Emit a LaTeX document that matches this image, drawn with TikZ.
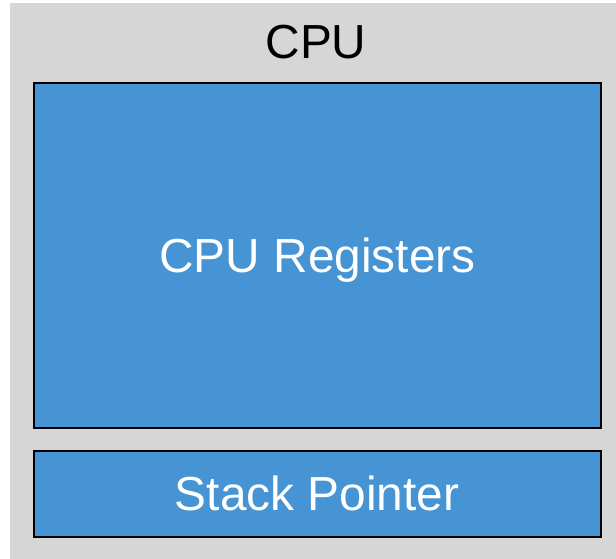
\documentclass[tikz,border=0pt]{standalone}
\usepackage{fontspec}
\setmainfont{Liberation Sans}
\definecolor{panelgray}{HTML}{D6D6D6}
\definecolor{regblue}{HTML}{4694D4}
\begin{document}
\begin{tikzpicture}[x=1pt,y=-1pt,
  unitbox/.style={draw=black, line width=2pt, fill=regblue},
  boxlabel/.style={text=white, font=\fontsize{47.8}{57}\selectfont, anchor=base, inner sep=0pt},
  titlelabel/.style={text=black, font=\fontsize{47.8}{57}\selectfont, anchor=base, inner sep=0pt}]
  \useasboundingbox (0,0) rectangle (616,559);
  % CPU enclosure
  \fill[panelgray] (10,3) rectangle (616,559);
  \node[titlelabel] (cpu) at (316,59) {CPU};
  % register file
  \draw[unitbox] (33.5,83) rectangle (600.5,428);
  \node[boxlabel] (regs) at (317.5,272) {CPU Registers};
  % stack pointer
  \draw[unitbox] (33.5,450.5) rectangle (600.5,536.5);
  \node[boxlabel] (sp) at (317,510) {Stack Pointer};
\end{tikzpicture}
\end{document}
